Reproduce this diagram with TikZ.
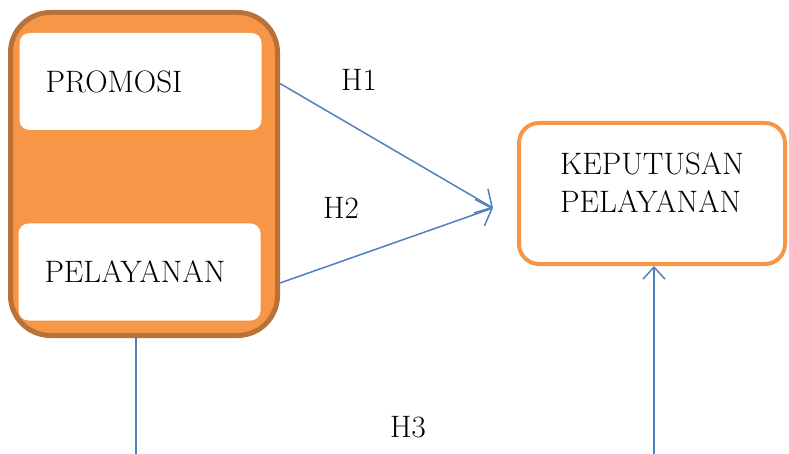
\documentclass[tikz,border=0pt]{standalone}
\usetikzlibrary{positioning,calc,arrows.meta}

\definecolor{accorange}{RGB}{247,150,70}
\definecolor{accbrown}{RGB}{184,113,56}
\definecolor{accblue}{RGB}{79,129,189}

\begin{document}
\begin{tikzpicture}[
    x=1pt, y=-1pt,
    varbox/.style={draw=accbrown, fill=accorange, rounded corners=40pt, line width=5pt, minimum width=267pt, minimum height=323pt},
    inbox/.style={fill=white, rounded corners=10pt, minimum width=241pt, minimum height=97pt, text width=190pt, align=left, inner xsep=26pt},
    outbox/.style={draw=accorange, fill=white, rounded corners=20pt, line width=4pt, minimum width=266pt, minimum height=141pt},
    txt/.style={font=\fontsize{31}{38}\selectfont, inner sep=0pt, align=left},
    hyp/.style={line width=1.5pt, draw=accblue, -{Straight Barb[length=13pt, width=28pt, line width=1.5pt]}},
    link/.style={line width=1.5pt, draw=accblue},
    hlabel/.style={font=\fontsize{31}{36}\selectfont}
]
    \useasboundingbox (0,0) rectangle (789,454);

    % Variables
    \node[varbox] (var) at (144,174) {};
    \node[inbox, font=\fontsize{31}{36}\selectfont] (promosi) at (140.5,81.5) {PROMOSI};
    \node[inbox, font=\fontsize{31}{36}\selectfont] (pelayanan) at (139.5,272) {PELAYANAN};

    \node[outbox] (keputusan) at (652,193.5) {};
    \node[txt, anchor=north west] (keptext) at (560,152) {KEPUTUSAN\\PELAYANAN};

    % Hypotheses
    \coordinate (meet) at (493,208);
    \draw[hyp] ($(var.east |- promosi)+(0,2)$) -- (meet);
    \draw[hyp] ($(var.east |- pelayanan)+(0,11)$) -- (meet);
    \node[hlabel] (h1) at (359,80) {H1};
    \node[hlabel] (h2) at (341,208) {H2};

    \coordinate (h3a) at (136,454);
    \coordinate (h3b) at (654,454);
    \draw[link] (var.south -| h3a) -- (h3a);
    \draw[line width=1.5pt, draw=accblue, -{Straight Barb[length=12pt, width=22pt, line width=1.5pt]}] (h3b) -- (keputusan.south -| h3b);
    \node[hlabel] (h3) at (408,427) {H3};

\end{tikzpicture}
\end{document}
